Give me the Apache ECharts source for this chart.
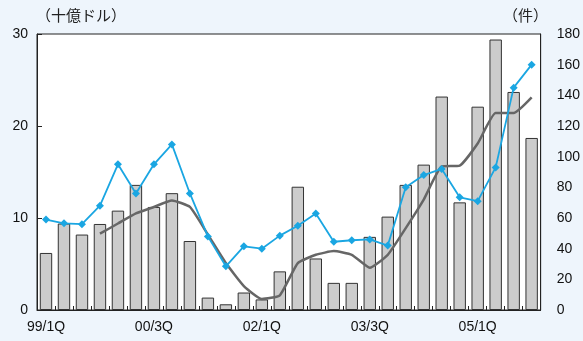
<!DOCTYPE html>
<html>
<head>
<meta charset="utf-8">
<script src="https://cdn.jsdelivr.net/npm/echarts@6/dist/echarts.min.js"></script>
<style>
  html, body { margin: 0; padding: 0; background: #eef5fc; }
  #main { width: 583px; height: 341px; }
</style>
</head>
<body>
<div id="main"></div>
<script>
// quarters 99/1Q .. 05/4Q
const quarters = [];
['99', '00', '01', '02', '03', '04', '05'].forEach((y) => {
    for (let q = 1; q <= 4; q++) quarters.push(y + '/' + q + 'Q');
});

// amount (十億ドル), left axis
const amount = [6.2, 9.4, 8.2, 9.35, 10.8, 13.6, 11.2, 12.7, 7.5, 1.35,
    0.62, 1.9, 1.15, 4.2, 13.4, 5.6, 2.95, 2.95, 7.95, 10.15,
    13.6, 15.8, 23.2, 11.7, 22.1, 29.4, 23.7, 18.7];

// 4-quarter average of amount, left axis
const average = [null, null, null, 8.3, 9.4, 10.5, 11.2, 11.9, 11.2, 8.2,
    5.1, 2.6, 1.2, 1.6, 5.1, 6.0, 6.4, 6.0, 4.6, 6.0,
    8.9, 12.0, 15.6, 15.7, 18.1, 21.4, 21.4, 23.1];

// number of deals (件), right axis
const deals = [59, 56.5, 56, 68, 95, 76, 95, 108, 76, 48,
    28.5, 41.5, 40, 48.5, 55, 63, 44.5, 45.5, 46, 42,
    80, 88, 92, 73.5, 71, 93, 145, 160];

const textFont = "'Liberation Sans', Arial, sans-serif";
const jpFont = "'Noto Sans CJK JP', sans-serif";

const chart = echarts.init(document.getElementById('main'));
chart.setOption({
    backgroundColor: '#eef5fc',
    animation: false,
    graphic: [
        { type: 'text', left: 36, top: 8, style: { text: '（十億ドル）', font: '15px ' + jpFont, fill: '#222' } },
        { type: 'text', left: 503, top: 8, style: { text: '（件）', font: '15px ' + jpFont, fill: '#222' } }
    ],
    grid: {
        left: 37, right: 39, top: 34, bottom: 31,
        show: true, backgroundColor: '#fff', borderColor: '#222', borderWidth: 1
    },
    xAxis: {
        type: 'category',
        data: quarters,
        boundaryGap: true,
        axisLine: { lineStyle: { color: '#222', width: 1 } },
        axisTick: { show: true, inside: true, length: 4, interval: 0, lineStyle: { color: '#222' } },
        axisLabel: { interval: 5, color: '#111', fontSize: 14, fontFamily: textFont, margin: 10 }
    },
    yAxis: [
        {
            type: 'value', min: 0, max: 30, interval: 10,
            splitLine: { show: false },
            axisLine: { show: true, lineStyle: { color: '#222' } },
            axisTick: { show: true, inside: true, length: 5, lineStyle: { color: '#222' } },
            axisLabel: { color: '#111', fontSize: 14, fontFamily: textFont, margin: 9 }
        },
        {
            type: 'value', min: 0, max: 180, interval: 20,
            splitLine: { show: false },
            axisLine: { show: true, lineStyle: { color: '#222' } },
            axisTick: { show: false },
            axisLabel: { color: '#111', fontSize: 14, fontFamily: textFont, margin: 16 }
        }
    ],
    series: [
        {
            type: 'bar',
            data: amount,
            yAxisIndex: 0,
            barCategoryGap: '31%',
            itemStyle: { color: '#cccccc', borderColor: '#333', borderWidth: 1 }
        },
        {
            type: 'line',
            data: average,
            yAxisIndex: 0,
            symbol: 'none',
            smooth: 0.15,
            lineStyle: { color: '#666', width: 2.5 }
        },
        {
            type: 'line',
            data: deals,
            yAxisIndex: 1,
            symbol: 'diamond',
            symbolSize: 8,
            lineStyle: { color: '#1aa6e2', width: 1.8 },
            itemStyle: { color: '#1aa6e2' }
        }
    ]
});
</script>
</body>
</html>
